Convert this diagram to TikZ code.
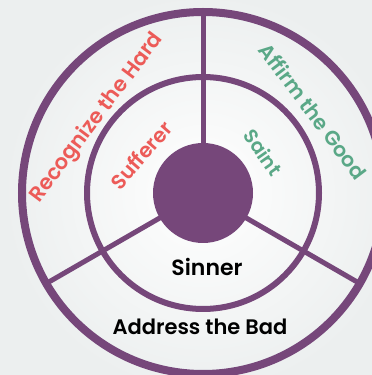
\documentclass[tikz,border=0pt]{standalone}
\usepackage{fontspec}
\setmainfont{Poppins}[BoldFont={Poppins SemiBold}]
\usepackage{xcolor}
\usepackage{tikz}
\definecolor{RingPurple}{HTML}{76477A}
\definecolor{RingRed}{HTML}{EC5B58}
\definecolor{RingGreen}{HTML}{5AA887}
\definecolor{RingBack}{HTML}{ECEFEF}
\begin{document}
\begin{tikzpicture}[x=1pt,y=1pt]
\path[use as bounding box] (0,0) rectangle (372,375);
\clip (0,0) rectangle (372,375);
\fill[RingBack] (0,0) rectangle (372,375);
\shade[inner color=white,outer color=RingBack] (203,182) circle (200);
\draw[RingPurple,line width=5pt] (203,232) -- (203,360);
\draw[RingPurple,line width=5pt] (203,182) ++(210:48) -- ++(210:133);
\draw[RingPurple,line width=5pt] (203,182) ++(330:48) -- ++(330:133);
\draw[RingPurple,line width=8pt] (203,182) circle (181);
\draw[RingPurple,line width=6pt] (203,182) circle (116);
\fill[RingPurple] (203,182) circle (50);
\node[text=RingRed,font=\bfseries\fontsize{21}{21}\selectfont,rotate=53] (hard) at (97,257) {Recognize the Hard};
\node[text=RingGreen,font=\bfseries\fontsize{20.5}{20.5}\selectfont,rotate=-53] (good) at (313,264) {Affirm the Good};
\node[text=RingRed,font=\bfseries\fontsize{20.5}{20.5}\selectfont,rotate=49] (sufferer) at (141,220) {Sufferer};
\node[text=RingGreen,font=\bfseries\fontsize{19.5}{19.5}\selectfont,rotate=-55] (saint) at (263,223) {Saint};
\node[text=black,font=\bfseries\fontsize{22}{22}\selectfont] (sinner) at (207,108) {Sinner};
\node[text=black,font=\bfseries\fontsize{21}{21}\selectfont] (bad) at (200,48) {Address the Bad};
\end{tikzpicture}
\end{document}
